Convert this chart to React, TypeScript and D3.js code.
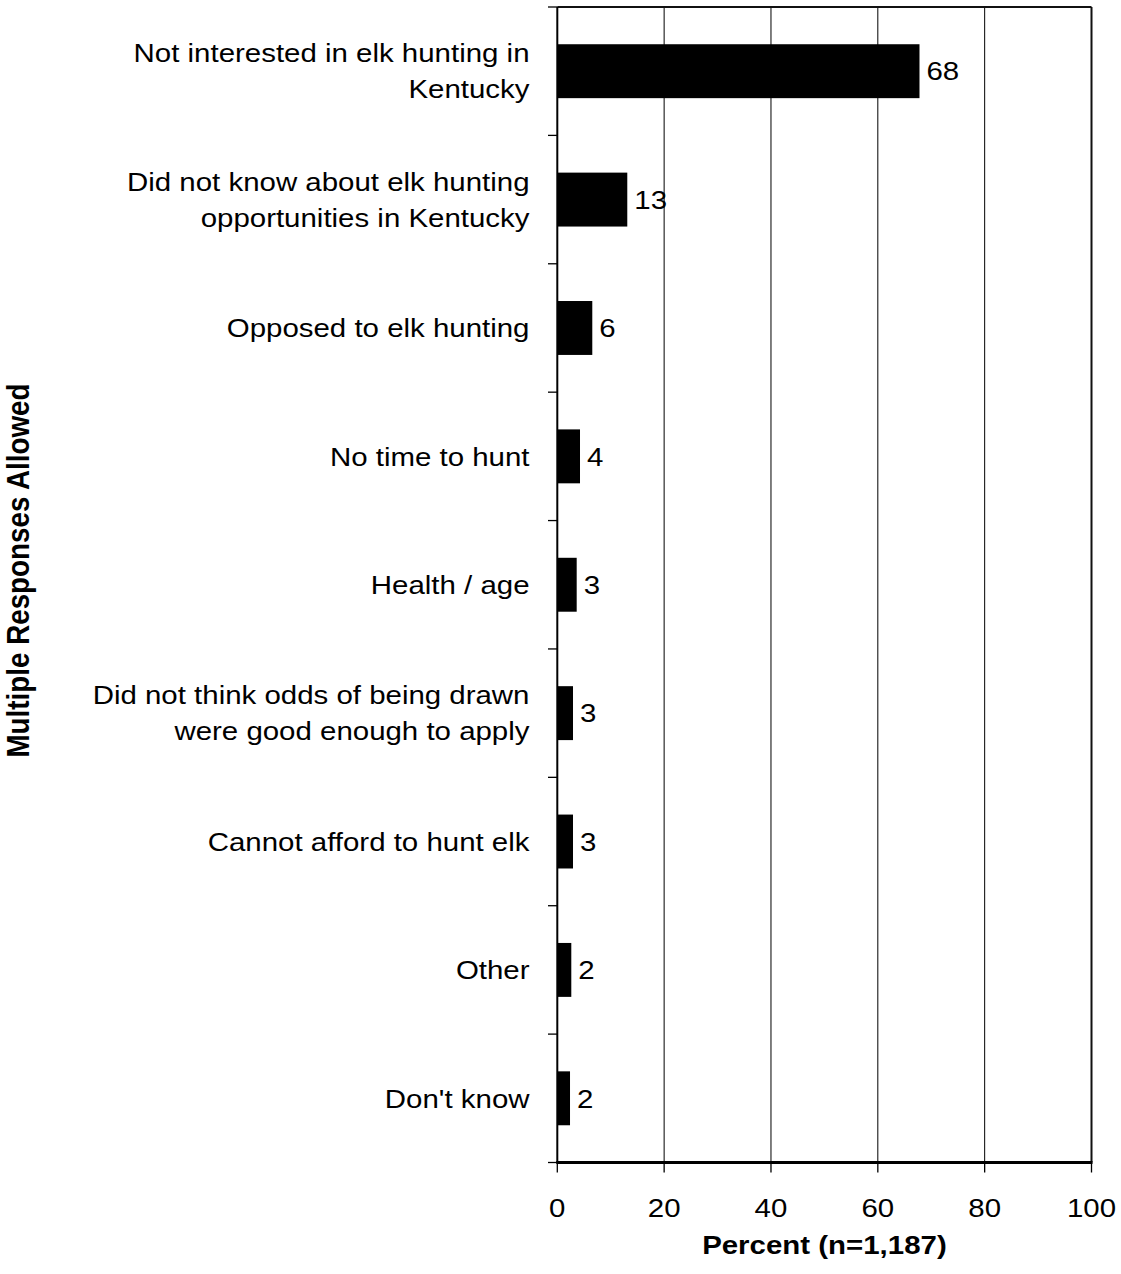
import React from "react";
import * as d3 from "d3";

const categories: string[][] = [
  ["Not interested in elk hunting in", "Kentucky"],
  ["Did not know about elk hunting", "opportunities in Kentucky"],
  ["Opposed to elk hunting"],
  ["No time to hunt"],
  ["Health / age"],
  ["Did not think odds of being drawn", "were good enough to apply"],
  ["Cannot afford to hunt elk"],
  ["Other"],
  ["Don't know"],
];
const values: number[] = [67.8, 13.1, 6.55, 4.25, 3.63, 2.94, 2.94, 2.62, 2.38];
const valueLabels: string[] = ["68", "13", "6", "4", "3", "3", "3", "2", "2"];
const xTicks: number[] = [0, 20, 40, 60, 80, 100];
const xTitle = "Percent (n=1,187)";
const yTitle = "Multiple Responses Allowed";

const W = 1121;
const H = 1274;
const left = 557.3;
const right = 1091.5;
const top = 7;
const bottom = 1162.5;
const SX = 1.15;
const FS = 25.6;
const FONT = "'Liberation Sans', Arial, Helvetica, sans-serif";

export default function App() {
  const x = d3.scaleLinear().domain([0, 100]).range([left, right]);
  const idx = categories.map((_, i) => String(i));
  const y = d3.scaleBand<string>().domain(idx).range([top, bottom]).paddingInner(0.58).paddingOuter(0.29);
  const band = d3.scaleBand<string>().domain(idx).range([top, bottom]);
  const bw = band.bandwidth();

  return (
    <svg
      width={W}
      height={H}
      style={{ position: "absolute", left: 0, top: 0, background: "#fff" }}
      fontFamily={FONT}
    >
      <rect x={0} y={0} width={W} height={H} fill="#fff" />
      {/* gridlines */}
      {xTicks.slice(1, -1).map((t) => (
        <line key={"g" + t} x1={x(t)} x2={x(t)} y1={top} y2={bottom} stroke="#000" strokeWidth={1} />
      ))}
      {/* bars */}
      {values.map((v, i) => (
        <rect key={"b" + i} x={x(0)} y={y(String(i))} width={x(v) - x(0)} height={y.bandwidth()} fill="#000" />
      ))}
      {/* value labels */}
      {values.map((v, i) => {
        const cy = (y(String(i)) as number) + y.bandwidth() / 2;
        return (
          <text
            key={"v" + i}
            transform={`translate(${x(v) + 7},${cy + 9.3}) scale(${SX},1)`}
            fontSize={FS}
            fill="#000"
          >
            {valueLabels[i]}
          </text>
        );
      })}
      {/* frame */}
      <line x1={left} x2={right} y1={top} y2={top} stroke="#111" strokeWidth={2} />
      <line x1={right} x2={right} y1={top} y2={bottom} stroke="#111" strokeWidth={2} />
      <line x1={left} x2={left} y1={top} y2={bottom} stroke="#000" strokeWidth={2} />
      <line x1={left - 1} x2={right + 1} y1={bottom} y2={bottom} stroke="#000" strokeWidth={3} />
      {/* y ticks */}
      {d3.range(categories.length + 1).map((i) => {
        const yy = top + i * bw;
        return <line key={"yt" + i} x1={548} x2={left} y1={yy} y2={yy} stroke="#000" strokeWidth={1.3} />;
      })}
      {/* x ticks */}
      {xTicks.map((t) => (
        <g key={"xt" + t}>
          <line x1={x(t)} x2={x(t)} y1={bottom} y2={bottom + 10} stroke="#000" strokeWidth={1.3} />
          <text
            transform={`translate(${x(t)},${1216.5}) scale(${SX},1)`}
            textAnchor="middle"
            fontSize={FS}
            fill="#000"
          >
            {t}
          </text>
        </g>
      ))}
      {/* category labels */}
      {categories.map((lines, i) => {
        const cy = (band(String(i)) as number) + bw / 2;
        const n = lines.length;
        return lines.map((ln, j) => {
          const by = cy + 9.3 + (j - (n - 1) / 2) * 36;
          return (
            <text
              key={"c" + i + "_" + j}
              transform={`translate(529.5,${by}) scale(${SX},1)`}
              textAnchor="end"
              fontSize={FS}
              fill="#000"
            >
              {ln}
            </text>
          );
        });
      })}
      {/* x title */}
      <text
        transform={`translate(${(left + right) / 2},1254) scale(${SX},1)`}
        textAnchor="middle"
        fontSize={FS}
        fontWeight="bold"
        fill="#000"
      >
        {xTitle}
      </text>
      {/* y title */}
      <text
        transform={`translate(29,570.5) scale(${SX},1) rotate(-90)`}
        textAnchor="middle"
        fontSize={27.8}
        fontWeight="bold"
        fill="#000"
      >
        {yTitle}
      </text>
    </svg>
  );
}
